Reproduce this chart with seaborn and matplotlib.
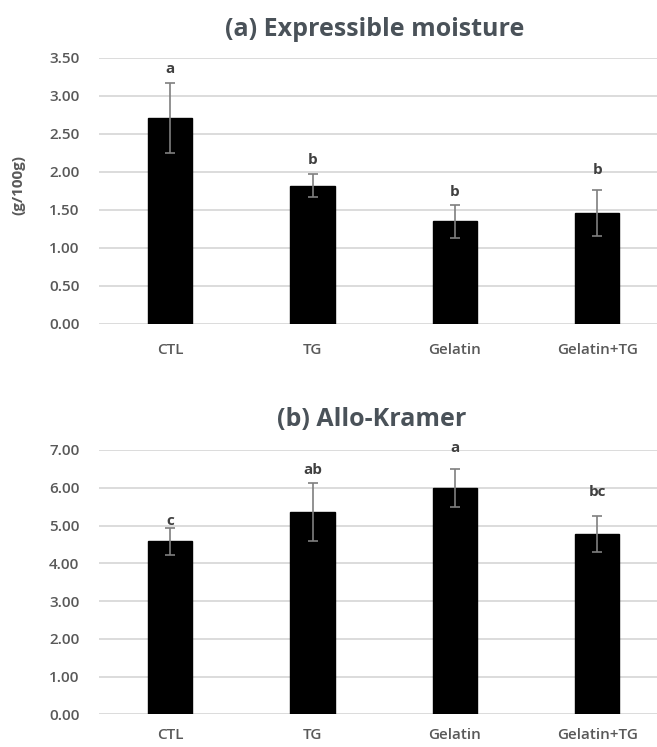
import matplotlib
matplotlib.use('Agg')
import matplotlib.pyplot as plt
import pandas as pd
import numpy as np
import seaborn as sns

# Data
groups = ['CTL', 'TG', 'Gelatin', 'Gelatin+TG']

moisture_mean = [2.71, 1.82, 1.35, 1.46]
moisture_err = [0.46, 0.15, 0.22, 0.30]
moisture_letters = ['a', 'b', 'b', 'b']
moisture_letter_y = [3.36, 2.16, 1.73, 2.02]

kramer_mean = [4.58, 5.36, 5.99, 4.77]
kramer_err = [0.36, 0.76, 0.50, 0.47]
kramer_letters = ['c', 'ab', 'a', 'bc']
kramer_letter_y = [5.12, 6.48, 7.04, 5.89]

sns.set_theme(style='white')
plt.rcParams['font.family'] = ['Open Sans', 'DejaVu Sans']

text_col = '#595959'
title_col = '#4a5259'
grid_col = '#d9d9d9'
err_col = '#7f7f7f'


def draw_panel(ax, means, errs, letters, letter_y, ymax, step, xpad):
    df = pd.DataFrame({'group': groups, 'value': means})
    sns.barplot(data=df, x='group', y='value', color='black', width=0.31,
                errorbar=None, ax=ax, zorder=2)
    for p in ax.patches:
        p.set_facecolor('black')
        p.set_edgecolor('black')
    ax.errorbar(np.arange(len(groups)), means, yerr=errs, fmt='none',
                ecolor=err_col, elinewidth=1.2, capsize=3.5, capthick=1.2, zorder=3)
    for i, (lab, ly) in enumerate(zip(letters, letter_y)):
        ax.text(i, ly, lab, ha='center', va='center', fontsize=11,
                fontweight='bold', color='#404040')
    ax.set_ylim(0, ymax)
    ax.set_xlim(-0.5, 3.42)
    ticks = np.arange(0, ymax + step / 2, step)
    ax.set_yticks(ticks)
    ax.set_yticklabels([f'{t:.2f}' for t in ticks])
    ax.yaxis.grid(True, color=grid_col, linewidth=1.3, zorder=0)
    ax.set_axisbelow(True)
    for s in ax.spines.values():
        s.set_visible(False)
    ax.tick_params(axis='both', length=0, labelsize=11, labelcolor=text_col)
    ax.tick_params(axis='y', pad=14)
    ax.tick_params(axis='x', pad=xpad)
    for t in ax.get_xticklabels() + ax.get_yticklabels():
        t.set_fontweight('semibold')
    ax.set_xlabel('')
    ax.set_ylabel('')


fig = plt.figure(figsize=(6.57, 7.47), dpi=100)
ax1 = fig.add_axes([0.1507, 0.5663, 0.8493, 0.3561])
ax2 = fig.add_axes([0.1507, 0.0438, 0.8493, 0.3538])

draw_panel(ax1, moisture_mean, moisture_err, moisture_letters, moisture_letter_y,
           3.5, 0.5, 14)
draw_panel(ax2, kramer_mean, kramer_err, kramer_letters, kramer_letter_y,
           7.0, 1.0, 10)

fig.text(0.571, 0.960, '(a) Expressible moisture', ha='center', va='center',
         fontsize=18, fontweight='bold', color=title_col)
fig.text(0.566, 0.439, '(b) Allo-Kramer', ha='center', va='center',
         fontsize=18, fontweight='bold', color=title_col)

fig.text(0.028, 0.752, '(g/100g)', rotation=90, ha='center', va='center',
         fontsize=11, fontweight='bold', color=text_col)

fig.savefig('out.png', dpi=100)
